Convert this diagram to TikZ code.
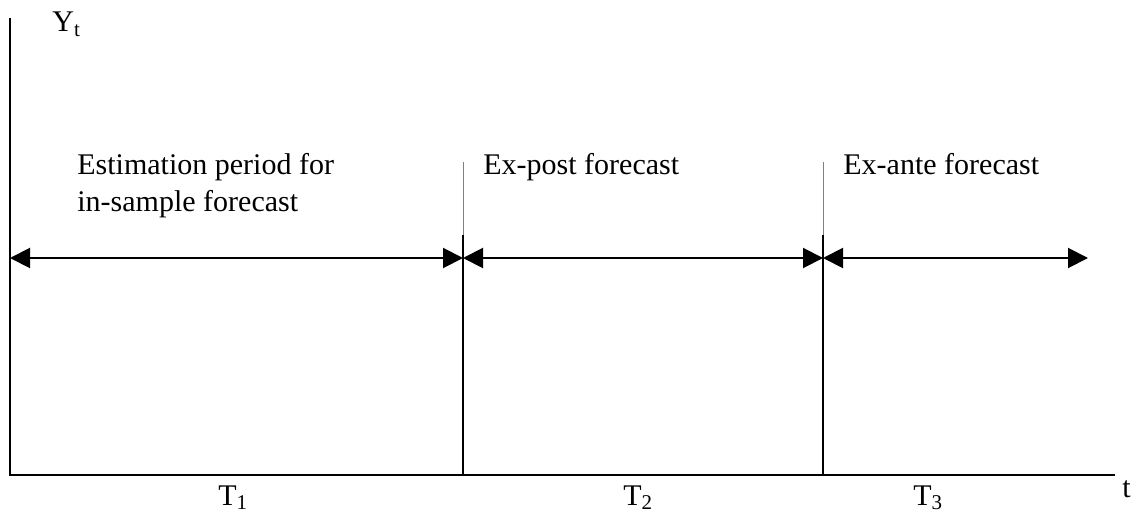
\documentclass[tikz,border=0pt]{standalone}
\usepackage{fontspec}
\setmainfont{Liberation Serif}
\usetikzlibrary{arrows.meta}
\begin{document}
\begin{tikzpicture}[x=0.5pt,y=-0.5pt,font=\fontsize{15}{18.5}\selectfont,
  axis/.style={line width=1pt},
  span/.style={{Triangle[length=10pt,width=10pt]}-{Triangle[length=10pt,width=10pt]},line width=1pt},
  lab/.style={inner sep=0pt,anchor=base west}]
\useasboundingbox (0,0) rectangle (1134,518);
% axes
\coordinate (O) at (10,475);
\coordinate (ytop) at (10,18);
\coordinate (xend) at (1115,475);
\draw[axis] (ytop) -- (O) -- (xend);
\node[lab] (Yt) at (52,32) {Y\textsubscript{t}};
\node[lab] (t) at (1122,497) {t};
% period boundaries and spans
\foreach \n/\x in {b1/463,b2/823} {
  \coordinate (\n top) at (\x,162);
  \coordinate (\n mid) at (\x,235);
  \coordinate (\n) at (\x,258);
  \coordinate (\n bot) at (\x,475);
  \draw[black!50,line width=0.4pt] (\n top) -- (\n mid);
  \draw[line width=0.6pt] (\n mid) -- (\n bot);
}
\coordinate (b0) at (10,258);
\coordinate (b3) at (1088,258);
\foreach \a/\b in {b0/b1,b1/b2,b2/b3} \draw[span] (\a) -- (\b);
% period labels
\node[lab] (est) at (77,175) {Estimation period for};
\node[lab] (ins) at (77,212) {in-sample forecast};
\node[lab] (post) at (483,175) {Ex-post forecast};
\node[lab] (ante) at (843,175) {Ex-ante forecast};
\foreach \k/\x in {1/218,2/623,3/913} \node[lab] (T\k) at (\x,505) {T\textsubscript{\k}};
\end{tikzpicture}
\end{document}
